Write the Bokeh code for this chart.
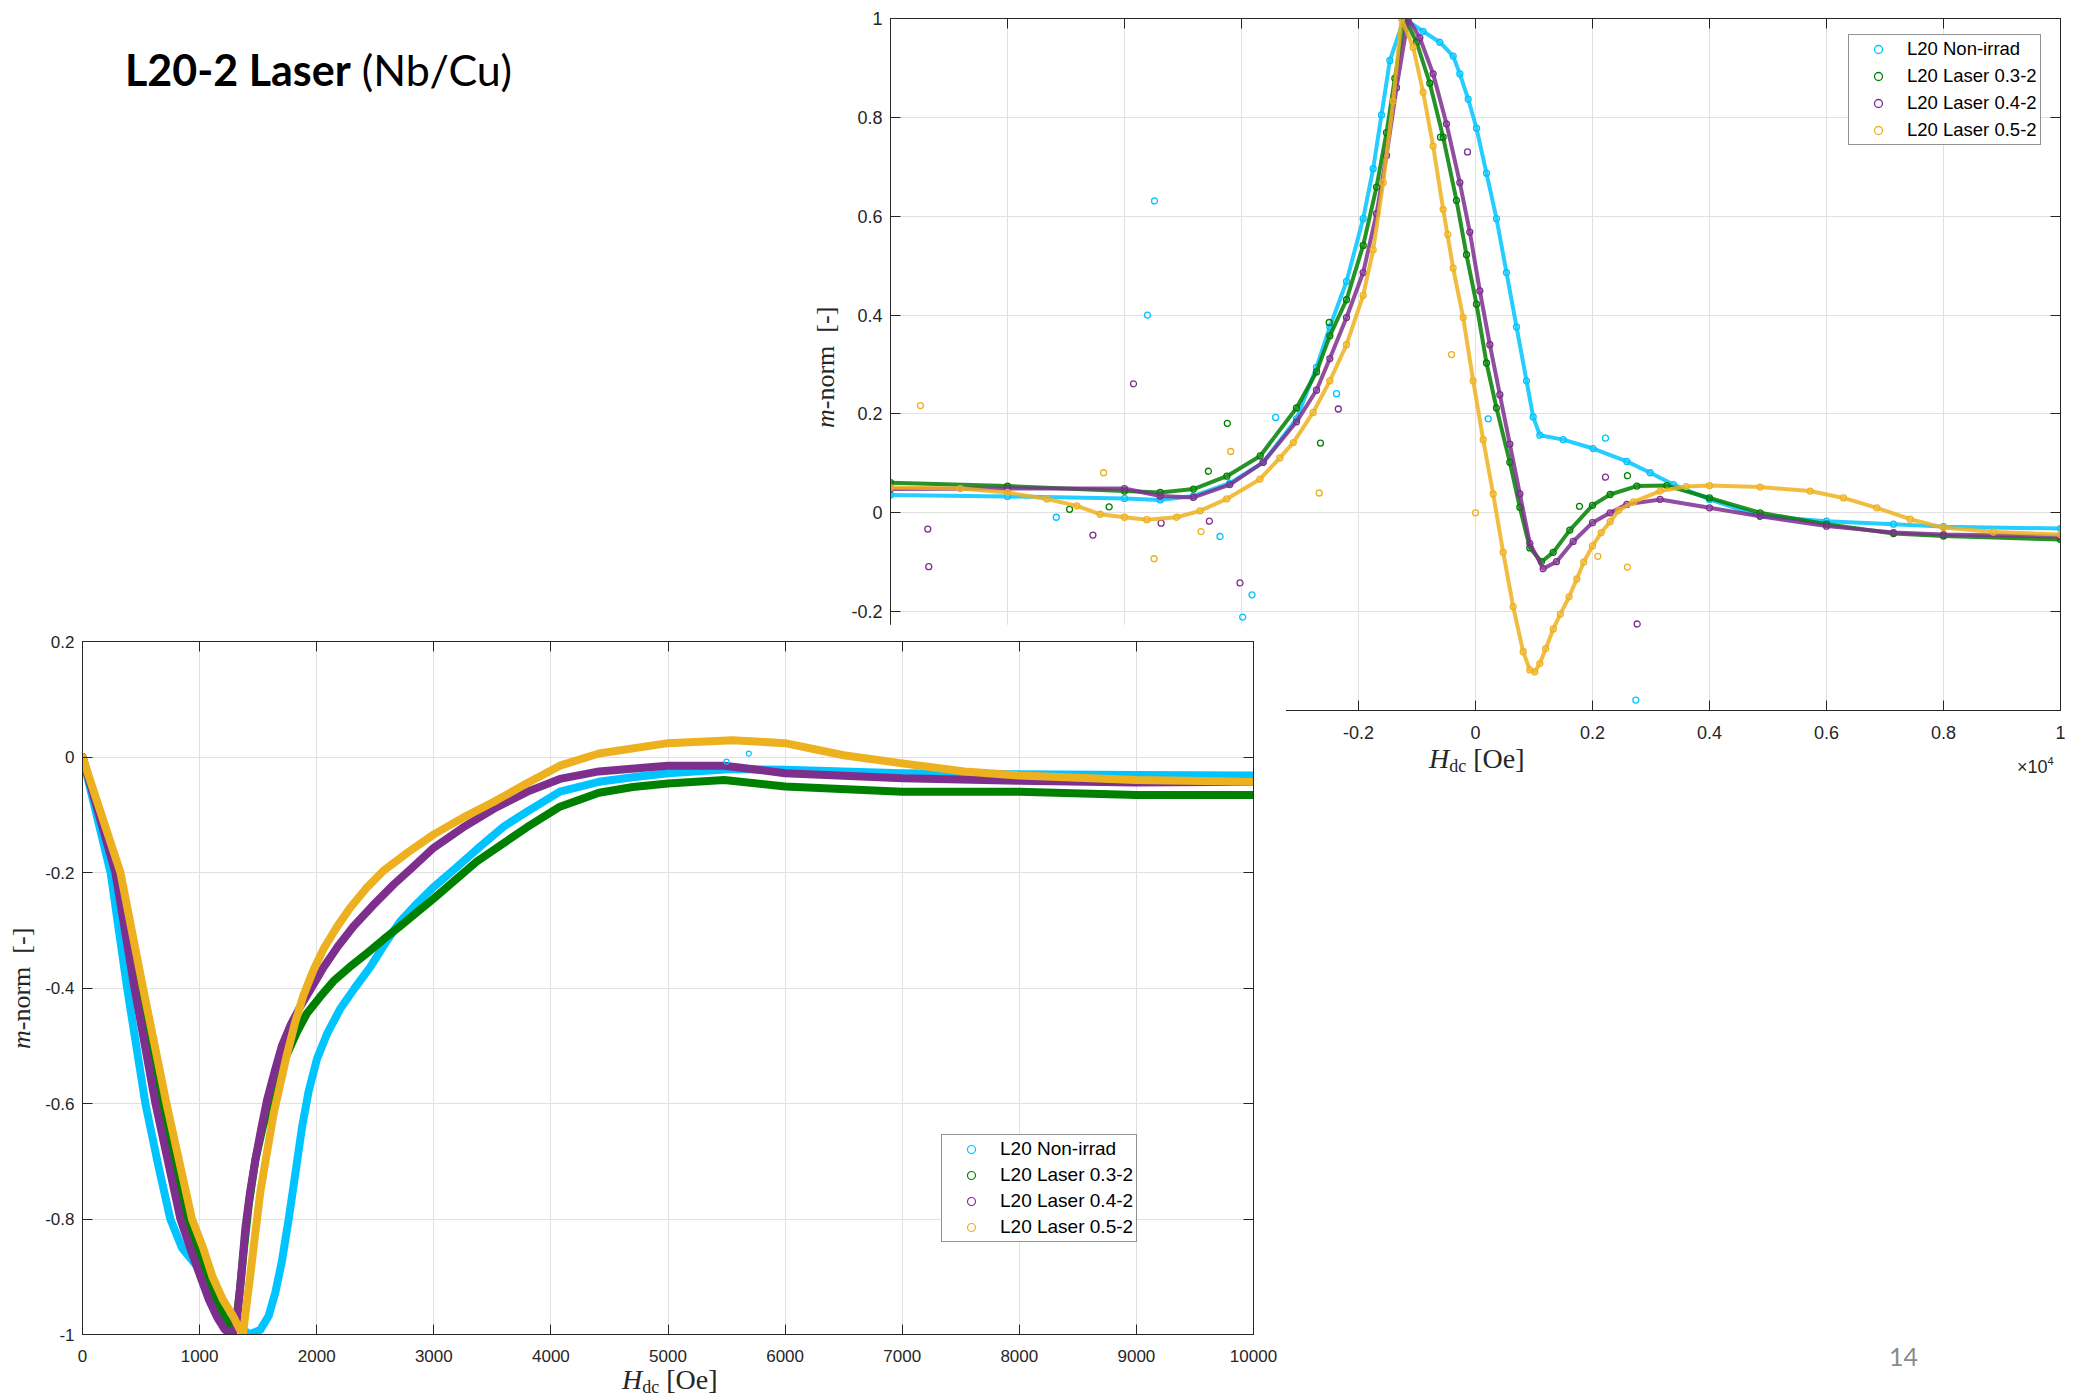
from bokeh.plotting import figure
from bokeh.models import FixedTicker, LinearAxis, Legend, LegendItem, Div, Range1d
from bokeh.embed import file_html
from bokeh.resources import INLINE

series_names = ["L20 Non-irrad", "L20 Laser 0.3-2", "L20 Laser 0.4-2", "L20 Laser 0.5-2"]
colors = ["#00c4ff", "#008000", "#7e2f8e", "#edb120"]

# ---------------- bottom plot (0 .. 10000 Oe) ----------------
b_cyan_x = [0, 240, 381, 537, 650, 750, 850, 950, 1035, 1134, 1234, 1348, 1427, 1518, 1589, 1646, 1703,
            1760, 1817, 1874, 1931, 2002, 2087, 2201, 2325, 2457, 2600, 2713, 2850, 3000, 3200, 3367,
            3600, 3793, 4077, 4410, 4700, 5000, 5550, 6000, 7000, 8000, 9000, 10000]
b_cyan_y = [0, -0.2, -0.4, -0.6, -0.71, -0.8, -0.85, -0.875, -0.897, -0.936, -0.968, -0.988, -1.0, -0.992,
            -0.968, -0.928, -0.873, -0.801, -0.722, -0.642, -0.579, -0.523, -0.48, -0.436, -0.40, -0.364,
            -0.318, -0.285, -0.255, -0.225, -0.19, -0.16, -0.12, -0.095, -0.06, -0.043, -0.035, -0.028,
            -0.021, -0.022, -0.028, -0.030, -0.031, -0.032]
b_green_x = [0, 296, 486, 680, 893, 980, 1063, 1140, 1206, 1260, 1305, 1340, 1376, 1420, 1476, 1540, 1604,
             1670, 1746, 1830, 1916, 2030, 2144, 2280, 2428, 2570, 2713, 2850, 3000, 3367, 3793, 4077, 4410,
             4700, 5000, 5480, 6000, 7000, 8000, 9000, 10000]
b_green_y = [0, -0.2, -0.4, -0.6, -0.8, -0.85, -0.9, -0.94, -0.97, -0.985, -0.99, -0.93, -0.857, -0.775,
             -0.698, -0.64, -0.595, -0.553, -0.515, -0.477, -0.444, -0.415, -0.388, -0.364, -0.340, -0.316,
             -0.293, -0.27, -0.245, -0.181, -0.122, -0.086, -0.062, -0.052, -0.046, -0.040, -0.051, -0.060,
             -0.060, -0.066, -0.066]
b_purple_x = [0, 281, 444, 623, 836, 920, 1007, 1080, 1149, 1210, 1262, 1290, 1319, 1355, 1390, 1430, 1476,
              1525, 1575, 1640, 1703, 1780, 1860, 1960, 2059, 2180, 2315, 2480, 2656, 2830, 3000, 3250, 3509,
              3800, 4077, 4410, 5000, 5480, 6000, 7000, 8000, 9000, 10000]
b_purple_y = [0, -0.2, -0.4, -0.6, -0.8, -0.85, -0.9, -0.94, -0.97, -0.99, -1.0, -0.995, -0.976, -0.90,
              -0.817, -0.755, -0.698, -0.645, -0.595, -0.545, -0.5, -0.463, -0.432, -0.398, -0.364, -0.328,
              -0.293, -0.257, -0.221, -0.189, -0.157, -0.122, -0.09, -0.06, -0.038, -0.025, -0.015, -0.015,
              -0.028, -0.037, -0.041, -0.044, -0.043]
b_orange_x = [0, 324, 517, 717, 935, 1030, 1110, 1200, 1291, 1340, 1370, 1400, 1433, 1475, 1518, 1575,
              1632, 1690, 1746, 1815, 1888, 1970, 2059, 2170, 2286, 2420, 2570, 2780, 3000, 3250, 3509, 3800,
              4077, 4410, 5000, 5550, 6000, 6500, 7000, 7530, 8000, 9000, 10000]
b_orange_y = [0, -0.2, -0.4, -0.6, -0.8, -0.85, -0.9, -0.94, -0.97, -0.99, -1.0, -0.95, -0.897, -0.825,
              -0.754, -0.685, -0.618, -0.565, -0.515, -0.46, -0.412, -0.37, -0.332, -0.295, -0.261, -0.228,
              -0.197, -0.165, -0.134, -0.105, -0.078, -0.045, -0.015, 0.006, 0.024, 0.029, 0.024, 0.003,
              -0.011, -0.025, -0.032, -0.040, -0.043]
b_cyan_out_x = [5500, 5690]
b_cyan_out_y = [-0.008, 0.006]

b_xticks = [0, 1000, 2000, 3000, 4000, 5000, 6000, 7000, 8000, 9000, 10000]
b_xlabels = ["0", "1000", "2000", "3000", "4000", "5000", "6000", "7000", "8000", "9000", "10000"]
b_yticks = [-1.0, -0.8, -0.6, -0.4, -0.2, 0.0, 0.2]
b_ylabels = ["-1", "-0.8", "-0.6", "-0.4", "-0.2", "0", "0.2"]

# ---------------- top plot (-1e4 .. 1e4 Oe) ----------------
t_cyan_x = [-10000, -8000, -6000, -5390, -4820, -4199, -3630, -3060, -2718, -2490, -2205, -1920, -1749,
            -1607, -1464, -1220, -895, -610, -382, -268, -125, 17, 188, 359, 530, 701, 872, 986, 1100,
            1499, 2011, 2587, 2986, 3385, 4000, 4866, 6000, 7145, 8000, 10000]
t_cyan_y = [0.036, 0.033, 0.029, 0.026, 0.034, 0.06, 0.102, 0.19, 0.294, 0.376, 0.468, 0.595, 0.696,
            0.805, 0.915, 1.0, 0.974, 0.952, 0.924, 0.888, 0.837, 0.778, 0.687, 0.595, 0.486, 0.376, 0.267,
            0.194, 0.157, 0.148, 0.130, 0.104, 0.081, 0.057, 0.027, -0.007, -0.017, -0.023, -0.028, -0.032]
t_green_x = [-10000, -8000, -6000, -5390, -4820, -4250, -3680, -3060, -2718, -2490, -2205, -1920, -1692,
             -1521, -1379, -1208, -1008, -781, -553, -325, -154, 17, 188, 359, 587, 758, 929, 1128, 1328,
             1613, 2000, 2302, 2758, 3271, 4000, 4866, 6000, 7145, 8000, 10000]
t_green_y = [0.061, 0.054, 0.044, 0.041, 0.048, 0.074, 0.115, 0.212, 0.285, 0.358, 0.431, 0.541, 0.659,
             0.769, 0.879, 1.0, 0.952, 0.869, 0.760, 0.632, 0.522, 0.422, 0.303, 0.212, 0.102, 0.011, -0.071,
             -0.099, -0.080, -0.035, 0.015, 0.037, 0.054, 0.055, 0.030, 0.0, -0.023, -0.042, -0.047, -0.054]
t_purple_x = [-10000, -8000, -6000, -5390, -4820, -4199, -3630, -3060, -2718, -2490, -2205, -1920, -1692,
              -1521, -1350, -1151, -952, -724, -496, -268, -97, 74, 245, 416, 587, 758, 929, 1157, 1385,
              1670, 2000, 2302, 2587, 3157, 4000, 4866, 6000, 7145, 8000, 10000]
t_purple_y = [0.048, 0.049, 0.049, 0.034, 0.031, 0.057, 0.102, 0.184, 0.248, 0.312, 0.395, 0.486, 0.605,
              0.723, 0.860, 1.0, 0.961, 0.888, 0.787, 0.668, 0.568, 0.449, 0.340, 0.239, 0.139, 0.038, -0.062,
              -0.113, -0.099, -0.058, -0.020, 0.0, 0.017, 0.027, 0.010, -0.007, -0.027, -0.040, -0.044, -0.048]
t_orange_x = [-10000, -8805, -8000, -7326, -6814, -6415, -6000, -5619, -5107, -4708, -4253, -3684, -3345,
              -3115, -2775, -2490, -2205, -1920, -1749, -1578, -1407, -1265, -1066, -895, -724, -553, -382,
              -211, -40, 131, 302, 473, 644, 815, 929, 1014, 1100, 1200, 1330, 1450, 1600, 1732, 1850, 2000,
              2150, 2302, 2450, 2701, 3157, 3600, 4000, 4866, 5721, 6291, 6861, 7430, 8000, 8855, 10000]
t_orange_y = [0.051, 0.049, 0.041, 0.028, 0.014, -0.003, -0.009, -0.014, -0.009, 0.004, 0.028, 0.068, 0.111,
              0.142, 0.203, 0.267, 0.340, 0.440, 0.532, 0.668, 0.833, 1.0, 0.942, 0.851, 0.742, 0.614, 0.495,
              0.395, 0.267, 0.148, 0.038, -0.080, -0.190, -0.281, -0.318, -0.322, -0.305, -0.275, -0.235,
              -0.205, -0.17, -0.134, -0.10, -0.067, -0.040, -0.018, 0.005, 0.022, 0.044, 0.053, 0.055, 0.052,
              0.044, 0.030, 0.010, -0.013, -0.030, -0.039, -0.044]

t_cyan_out_x = [-5487, -5607, -7166, -4367, -3980, -3820, -3417, -2376, 217, 2222, 2741]
t_cyan_out_y = [0.631, 0.400, -0.009, -0.048, -0.211, -0.166, 0.193, 0.241, 0.190, 0.151, -0.379]
t_green_out_x = [-6939, -6262, -4566, -4242, -2501, -2650, -598, 1778, 2598]
t_green_out_y = [0.007, 0.012, 0.084, 0.181, 0.385, 0.141, 0.760, 0.013, 0.075]
t_purple_out_x = [-9363, -9346, -6540, -5374, -4549, -4025, -5846, -2345, -137, 2222, 2764]
t_purple_out_y = [-0.033, -0.109, -0.045, -0.021, -0.017, -0.142, 0.261, 0.210, 0.730, 0.072, -0.225]
t_orange_out_x = [-9488, -6358, -5494, -4691, -4185, -2672, -473, -410, 0, 2091, 2598]
t_orange_out_y = [0.217, 0.081, -0.093, -0.038, 0.124, 0.040, 0.563, 0.320, 0.0, -0.088, -0.110]

t_xticks = [-10000, -8000, -6000, -4000, -2000, 0, 2000, 4000, 6000, 8000, 10000]
t_xlabels = ["-1", "-0.8", "-0.6", "-0.4", "-0.2", "0", "0.2", "0.4", "0.6", "0.8", "1"]
t_yticks = [-0.4, -0.2, 0.0, 0.2, 0.4, 0.6, 0.8, 1.0]
t_ylabels = ["-0.4", "-0.2", "0", "0.2", "0.4", "0.6", "0.8", "1"]

AX = "#262626"


def style_axis(ax, size, standoff):
    ax.axis_line_color = AX
    ax.axis_line_width = 1
    ax.major_tick_line_color = AX
    ax.major_tick_in = 10
    ax.major_tick_out = 0
    ax.minor_tick_line_color = None
    ax.major_label_text_font = "Liberation Sans"
    ax.major_label_text_font_size = size
    ax.major_label_text_color = AX
    ax.major_label_standoff = standoff


def build_axes(p, xt, xl, yt, yl, fsize, xstand):
    fx = FixedTicker(ticks=xt)
    fy = FixedTicker(ticks=yt)
    bx = p.xaxis[0]
    ly = p.yaxis[0]
    bx.ticker = fx
    ly.ticker = fy
    bx.major_label_overrides = dict(zip(xt, xl))
    ly.major_label_overrides = dict(zip(yt, yl))
    style_axis(bx, fsize, xstand)
    style_axis(ly, fsize, 8)
    ax_top = LinearAxis(ticker=fx, major_label_overrides={t: "" for t in xt})
    ax_right = LinearAxis(ticker=fy, major_label_overrides={t: "" for t in yt})
    style_axis(ax_top, "1px", 0)
    style_axis(ax_right, "1px", 0)
    p.add_layout(ax_top, "above")
    p.add_layout(ax_right, "right")
    p.xgrid.ticker = fx
    p.ygrid.ticker = fy
    p.grid.grid_line_color = "#e1e1e1"
    p.grid.grid_line_width = 1
    p.outline_line_color = AX
    p.outline_line_width = 1
    p.background_fill_color = "white"
    p.border_fill_color = "white"


def style_legend(leg, size, padding, spacing):
    leg.border_line_color = AX
    leg.border_line_width = 1
    leg.background_fill_color = "white"
    leg.background_fill_alpha = 1.0
    leg.label_text_font = "Liberation Sans"
    leg.label_text_font_size = size
    leg.label_text_color = "black"
    leg.padding = padding
    leg.spacing = spacing
    leg.label_height = 20
    leg.glyph_height = 20
    leg.glyph_width = 52
    leg.label_standoff = 3
    leg.margin = 0


def text_div(html, left, top, size, width, height, font="Liberation Serif", extra=None):
    st = {"position": "absolute", "left": f"{left}px", "top": f"{top}px", "font-family": font,
          "font-size": f"{size}px", "line-height": "1", "color": AX, "white-space": "nowrap",
          "z-index": "3", "overflow": "visible"}
    if extra:
        st.update(extra)
    return Div(text=html, width=width, height=height, styles=st)


# ---------------- top figure ----------------
pt = figure(width=1313, height=800, x_range=Range1d(-10000, 10000), y_range=Range1d(-0.4, 1.0),
            output_backend="svg", toolbar_location=None,
            min_border_left=130, min_border_right=13, min_border_top=18, min_border_bottom=90,
            styles={"position": "absolute", "left": "760px", "top": "0px", "z-index": "1"})
build_axes(pt, t_xticks, t_xlabels, t_yticks, t_ylabels, "18px", 15)

top_main = [(t_cyan_x, t_cyan_y), (t_green_x, t_green_y), (t_purple_x, t_purple_y), (t_orange_x, t_orange_y)]
top_out = [(t_cyan_out_x, t_cyan_out_y), (t_green_out_x, t_green_out_y),
           (t_purple_out_x, t_purple_out_y), (t_orange_out_x, t_orange_out_y)]
top_items = []
for (xs, ys), (ox, oy), c, name in zip(top_main, top_out, colors, series_names):
    pt.line(xs, ys, line_color=c, line_width=4, line_alpha=0.85, line_join="round", line_cap="round")
    r = pt.scatter(xs, ys, marker="circle", size=6, fill_color=None, line_color=c, line_width=1.3)
    pt.scatter(ox, oy, marker="circle", size=6, fill_color=None, line_color=c, line_width=1.3)
    top_items.append(LegendItem(label=name, renderers=[r]))
leg_t = Legend(items=top_items, location=(958, 565))
style_legend(leg_t, "18.5px", 3, 5)
pt.add_layout(leg_t)

# ---------------- bottom figure ----------------
pb = figure(width=1286, height=772, x_range=Range1d(0, 10000), y_range=Range1d(-1.0, 0.2),
            output_backend="svg", toolbar_location=None,
            min_border_left=82, min_border_right=33, min_border_top=17, min_border_bottom=62,
            styles={"position": "absolute", "left": "0px", "top": "624px", "z-index": "2"})
build_axes(pb, b_xticks, b_xlabels, b_yticks, b_ylabels, "17px", 15)

bot_main = [(b_cyan_x, b_cyan_y), (b_green_x, b_green_y), (b_purple_x, b_purple_y), (b_orange_x, b_orange_y)]
bot_items = []
for (xs, ys), c, name in zip(bot_main, colors, series_names):
    pb.line(xs, ys, line_color=c, line_width=8, line_join="round", line_cap="round")
    r = pb.scatter(xs, ys, marker="circle", size=5, fill_color=None, line_color=c, line_width=1.2)
    bot_items.append(LegendItem(label=name, renderers=[r]))
pb.scatter(b_cyan_out_x, b_cyan_out_y, marker="circle", size=5, fill_color=None,
           line_color=colors[0], line_width=1.2)
leg_b = Legend(items=bot_items, location=(859, 92))
style_legend(leg_b, "19px", 3, 4)
pb.add_layout(leg_b)

# ---------------- axis titles and slide texts ----------------
rot = {"transform": "rotate(-90deg)", "transform-origin": "0 0"}
ylab_html = "<i>m</i>-norm&nbsp;&nbsp;[-]"
xlab_html = ('<i>H</i><span style="font-size:18px;position:relative;top:4px">dc</span>'
             '&nbsp;[Oe]')
top_ylab = text_div(ylab_html, 808, 423, 26, 150, 28, extra=rot)
bot_ylab = text_div(ylab_html, 4, 1044, 26, 150, 28, extra=rot)
top_xlab = text_div(xlab_html, 1424, 740, 28, 130, 34)
bot_xlab = text_div(xlab_html, 617, 1361, 28, 130, 34)
exp_lab = text_div('\u00d710<span style="font-size:11px;position:relative;top:-8px">4</span>',
                   2012, 753, 18, 60, 24, font="Liberation Sans")

title = Div(text='<span style="font-weight:bold">L20-2 Laser</span> (Nb/Cu)', width=600, height=60,
            styles={"position": "absolute", "left": "120px", "top": "34px", "font-family": "Lato",
                    "font-size": "43px", "color": "black", "white-space": "nowrap", "z-index": "3"})
page = Div(text="14", width=80, height=40,
           styles={"position": "absolute", "left": "1884px", "top": "1334px", "font-family": "Lato",
                   "font-size": "25px", "color": "#8a8a8a", "z-index": "3"})

roots = [title, pt, pb, top_ylab, bot_ylab, top_xlab, bot_xlab, exp_lab, page]
html = file_html(roots, INLINE, title="L20-2 Laser (Nb/Cu)")
open("out.html", "w").write(html)
